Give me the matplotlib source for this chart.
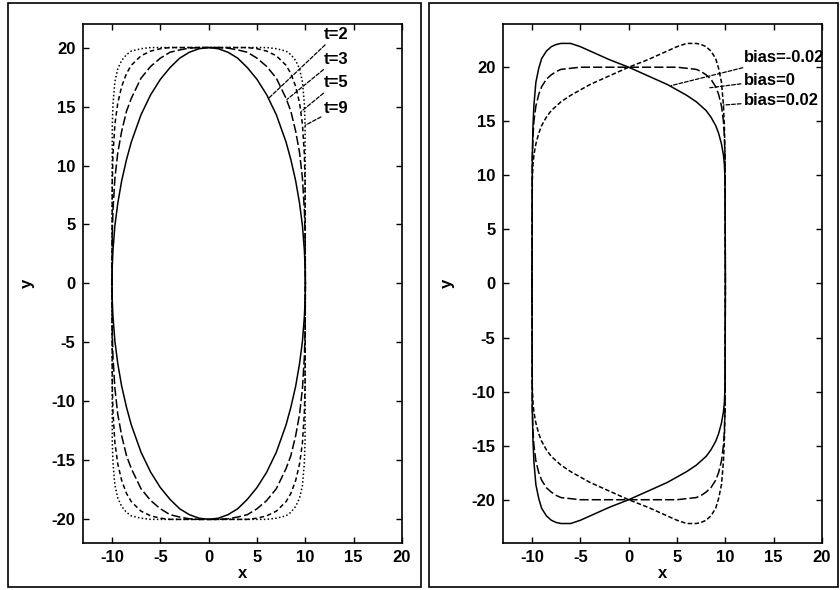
import numpy as np
import matplotlib.pyplot as plt
from matplotlib.patches import Rectangle

plt.rcParams["font.family"] = ["Liberation Sans", "DejaVu Sans"]
plt.rcParams["font.weight"] = "bold"
plt.rcParams["axes.unicode_minus"] = False

# left panel: upper halves of the curves
x_left = [-10, -9.97, -9.9, -9.7, -9.4, -9, -8.5, -8, -7, -6, -5, -4, -3, -2, -1, 0,
          1, 2, 3, 4, 5, 6, 7, 8, 8.5, 9, 9.4, 9.7, 9.9, 9.97, 10]
y_t2 = [0, 1.5, 2.8, 4.9, 6.8, 8.7, 10.5, 12.0, 14.3, 16.0, 17.3, 18.3, 19.1, 19.6, 19.9, 20,
        19.9, 19.6, 19.1, 18.3, 17.3, 16.0, 14.3, 12.0, 10.5, 8.7, 6.8, 4.9, 2.8, 1.5, 0]
y_t3 = [0, 4.2, 6.2, 8.9, 11.1, 12.9, 14.6, 15.7, 17.4, 18.4, 19.1, 19.6, 19.8, 19.95, 20, 20,
        20, 19.95, 19.8, 19.6, 19.1, 18.4, 17.4, 15.7, 14.6, 12.9, 11.1, 8.9, 6.2, 4.2, 0]
y_t5 = [0, 8.6, 10.9, 13.5, 15.3, 16.7, 17.8, 18.5, 19.3, 19.7, 19.9, 20, 20, 20, 20, 20,
        20, 20, 20, 20, 19.9, 19.7, 19.3, 18.5, 17.8, 16.7, 15.3, 13.5, 10.9, 8.6, 0]
y_t9 = [0, 13.4, 15.2, 17.1, 18.2, 18.9, 19.4, 19.7, 19.9, 20, 20, 20, 20, 20, 20, 20,
        20, 20, 20, 20, 20, 20, 19.9, 19.7, 19.4, 18.9, 18.2, 17.1, 15.2, 13.4, 0]
left_labels = ["t=2", "t=3", "t=5", "t=9"]
left_label_y = [21.1, 19.0, 17.0, 14.8]
left_anchor_x = [6.2, 8.1, 9.6, 9.97]
left_anchor_y = [15.7, 15.6, 14.6, 13.4]

# right panel
x_right = [-10, -9.97, -9.9, -9.8, -9.6, -9.3, -9, -8.5, -8, -7.5, -7, -6, -5, -4, -2, 0,
           2, 4, 5, 6, 7, 7.5, 8, 8.5, 9, 9.3, 9.6, 9.8, 9.9, 9.97, 10]
y_bm = [0, 11.5, 14.5, 16.5, 18.6, 19.9, 20.8, 21.5, 21.9, 22.1, 22.2, 22.2, 21.9, 21.5, 20.7, 20,
        19.2, 18.4, 17.9, 17.4, 16.8, 16.4, 16.0, 15.4, 14.6, 13.9, 12.9, 11.9, 11.0, 9.5, 0]
y_b0 = [0, 11.5, 13.6, 15.0, 16.4, 17.5, 18.2, 18.9, 19.3, 19.6, 19.8, 19.9, 20, 20, 20, 20,
        20, 20, 20, 19.9, 19.8, 19.6, 19.3, 18.9, 18.2, 17.5, 16.4, 15.0, 13.6, 11.5, 0]
y_bp = [0, 9.5, 11.0, 11.9, 12.9, 13.9, 14.6, 15.4, 16.0, 16.4, 16.8, 17.4, 17.9, 18.4, 19.2, 20,
        20.7, 21.5, 21.9, 22.2, 22.2, 22.1, 21.9, 21.5, 20.8, 19.9, 18.6, 16.5, 14.5, 11.5, 0]
right_labels = ["bias=-0.02", "bias=0", "bias=0.02"]
right_label_y = [20.9, 18.8, 16.9]
right_anchor_x = [4.4, 8.4, 9.8]
right_anchor_y = [18.3, 18.1, 16.5]

xticks = [-10, -5, 0, 5, 10, 15, 20]
yticks = [-20, -15, -10, -5, 0, 5, 10, 15, 20]


def closed(x, y):
    x = np.asarray(x, float)
    y = np.asarray(y, float)
    return np.concatenate([x, x[::-1]]), np.concatenate([y, -y[::-1]])


def style_axes(ax, ylim):
    ax.set_xlim(-13, 20)
    ax.set_ylim(*ylim)
    ax.set_xticks(xticks)
    ax.set_yticks(yticks)
    ax.tick_params(direction="in", top=True, right=True, length=4.5, width=1,
                   labelsize=12)
    ax.tick_params(axis="x", pad=5)
    ax.tick_params(axis="y", pad=5.5)
    for s in ax.spines.values():
        s.set_linewidth(1.2)
    ax.set_xlabel("x", fontsize=12, fontweight="bold")
    ax.set_ylabel("y", fontsize=12, fontweight="bold")
    ax.xaxis.set_label_coords(0.5, -0.045)
    ax.yaxis.set_label_coords(-0.15, 0.5)


fig = plt.figure(figsize=(8.4, 5.9), dpi=100)
ax1 = fig.add_axes([0.0988, 0.0797, 0.3798, 0.8797])
ax2 = fig.add_axes([0.5988, 0.0797, 0.3798, 0.8797])

lw = 1.1
styles_left = ["-", (0, (6, 2)), (0, (3, 2)), (0, (1, 1.5))]
for yv, ls in zip([y_t2, y_t3, y_t5, y_t9], styles_left):
    cx, cy = closed(x_left, yv)
    ax1.plot(cx, cy, color="black", lw=lw, ls=ls)
for lab, ly, axx, axy in zip(left_labels, left_label_y, left_anchor_x, left_anchor_y):
    ax1.annotate(lab, xy=(axx, axy), xytext=(11.9, ly), fontsize=12, fontweight="bold",
                 va="center", ha="left", annotation_clip=False,
                 arrowprops=dict(arrowstyle="-", color="black", lw=0.9,
                                 linestyle=(0, (3, 1.5)), shrinkA=0, shrinkB=0))
style_axes(ax1, (-22, 22))

styles_right = ["-", (0, (6, 2)), (0, (3, 1.5))]
for yv, ls in zip([y_bm, y_b0, y_bp], styles_right):
    cx, cy = closed(x_right, yv)
    ax2.plot(cx, cy, color="black", lw=lw, ls=ls)
for lab, ly, axx, axy in zip(right_labels, right_label_y, right_anchor_x, right_anchor_y):
    ax2.annotate(lab, xy=(axx, axy), xytext=(11.9, ly), fontsize=12, fontweight="bold",
                 va="center", ha="left", annotation_clip=False,
                 arrowprops=dict(arrowstyle="-", color="black", lw=0.9,
                                 linestyle=(0, (3, 1.5)), shrinkA=0, shrinkB=0))
style_axes(ax2, (-24, 24))

# panel frames
fig.add_artist(Rectangle((8 / 840, 3 / 590), 413 / 840, 584 / 590, transform=fig.transFigure,
                         fill=False, lw=1.2, ec="black"))
fig.add_artist(Rectangle((429 / 840, 3 / 590), 409 / 840, 584 / 590, transform=fig.transFigure,
                         fill=False, lw=1.2, ec="black"))

fig.savefig("out.png", dpi=100)
